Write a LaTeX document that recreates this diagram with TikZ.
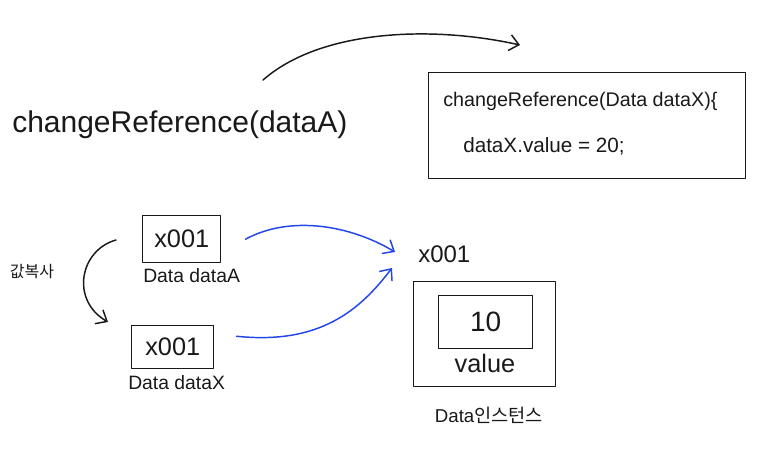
\documentclass[tikz,border=0pt]{standalone}
\usepackage{fontspec}
\setmainfont{Liberation Sans}
\newfontfamily\kr{Noto Sans CJK KR}
\usetikzlibrary{arrows.meta}
\definecolor{penblue}{RGB}{35,70,235}
\definecolor{ink}{RGB}{25,25,25}
\tikzset{
  stroke/.style={draw=ink, line width=1.1pt, line cap=round, line join=round},
  bluestroke/.style={draw=penblue, line width=1.1pt, line cap=round},
  tip/.style={-{Straight Barb[length=7pt,width=12pt]}},
  lbl/.style={inner sep=0pt, text=ink},
}
\begin{document}
\begin{tikzpicture}[x=0.75pt,y=-0.75pt]
\useasboundingbox (0,0) rectangle (771,472);
% top call
\node[lbl, font=\fontsize{22.5}{26}\selectfont, anchor=west] (call) at (12,125) {changeReference(dataA)};
\coordinate (arcS) at (263,80);
\coordinate (arcE) at (520,45);
\draw[stroke, tip] (arcS) .. controls (320,30) and (430,25) .. (arcE);
% method box
\node[stroke, minimum width=317*0.75pt, minimum height=106*0.75pt, anchor=north west] (mbox) at (428,72) {};
\node[lbl, font=\fontsize{14.8}{17}\selectfont, anchor=west] (m1) at (443,101) {changeReference(Data dataX)\{};
\node[lbl, font=\fontsize{15.5}{17}\selectfont, anchor=west] (m2) at (463,146) {dataX.value = 20;};
% reference A
\node[stroke, minimum width=78*0.75pt, minimum height=47*0.75pt, anchor=north west, font=\fontsize{19}{20}\selectfont, text=ink] (ra) at (142,215) {x001};
\node[lbl, font=\fontsize{14.5}{15}\selectfont, anchor=north west] (la) at (143,268) {Data dataA};
% reference X
\node[stroke, minimum width=82*0.75pt, minimum height=43*0.75pt, anchor=north west, font=\fontsize{19}{20}\selectfont, text=ink] (rx) at (131,325) {x001};
\node[lbl, font=\fontsize{14.5}{15}\selectfont, anchor=north west] (lx) at (128,375) {Data dataX};
% value copy
\node[lbl, font=\kr\fontsize{12}{14}\selectfont] (copy) at (32,272) {값복사};
\coordinate (cS) at (116,240);
\coordinate (cE) at (108,322);
\draw[stroke, tip] (cS) .. controls (80,250) and (70,300) .. (cE);
% address
\node[lbl, font=\fontsize{18}{20}\selectfont, anchor=west] (addr) at (418,254) {x001};
\coordinate (hit1) at (395,252);
\coordinate (hit2) at (392,268);
\draw[bluestroke, tip] (ra.east) ++(24,0) coordinate (b1) .. controls (290,215) and (350,225) .. (hit1);
\draw[bluestroke, tip] (rx.east) ++(22,-11) coordinate (b2) .. controls (320,345) and (360,310) .. (hit2);
% object
\node[stroke, minimum width=142*0.75pt, minimum height=105*0.75pt, anchor=north west] (obj) at (413,281) {};
\node[stroke, minimum width=94*0.75pt, minimum height=53*0.75pt, anchor=north west, font=\fontsize{21}{22}\selectfont, text=ink] (val) at (438,295) {10};
\node[lbl, font=\fontsize{19}{20}\selectfont] (vl) at (485,363) {value};
\node[lbl, font=\fontsize{14}{16}\selectfont] (objl) at (489,415) {Data{\kr 인스턴스}};
\end{tikzpicture}
\end{document}
